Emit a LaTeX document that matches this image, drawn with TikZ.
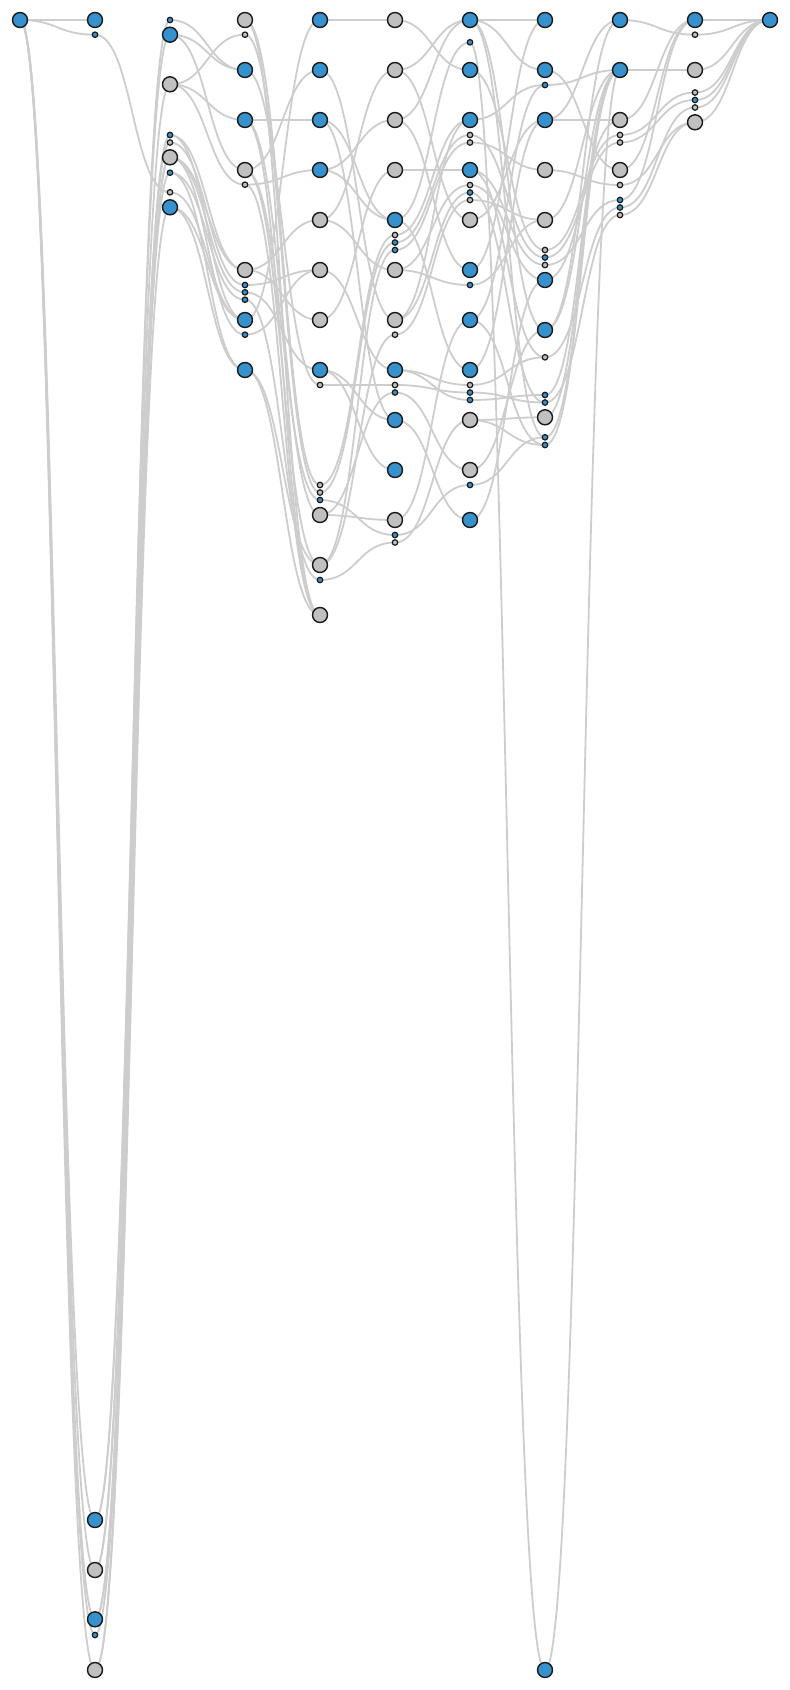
\documentclass[tikz,border=0pt]{standalone}
\usetikzlibrary{calc}
\definecolor{nblue}{RGB}{55,145,205}
\definecolor{ngray}{RGB}{192,192,192}
\definecolor{nedge}{RGB}{205,205,205}
\definecolor{nline}{RGB}{25,25,25}
\pgfdeclarelayer{edges}
\pgfsetlayers{edges,main}
\tikzset{
  bigB/.style={circle, draw=nline, line width=1.4pt, minimum size=15pt, inner sep=0pt, fill=nblue},
  bigG/.style={circle, draw=nline, line width=1.4pt, minimum size=15pt, inner sep=0pt, fill=ngray},
  smB/.style={circle, draw=nline, line width=1.2pt, minimum size=5.5pt, inner sep=0pt, fill=nblue},
  smG/.style={circle, draw=nline, line width=1.2pt, minimum size=5.5pt, inner sep=0pt, fill=ngray},
  lnk/.style={draw=nedge, line width=1.8pt,
    to path={.. controls ([xshift=37.5pt]\tikztostart) and ([xshift=-37.5pt]\tikztotarget) .. (\tikztotarget)}}
}
\begin{document}
\begin{tikzpicture}[x=1pt,y=-1pt]
\useasboundingbox (0,0) rectangle (790,1690);
% column 0
\node[bigB] (c0y20) at (20,20) {};
% column 1
\node[bigB] (c1y20) at (95,20) {};
\node[smB] (c1y35) at (95,34.7) {};
\node[bigB] (c1y1520) at (95,1520) {};
\node[bigG] (c1y1570) at (95,1570) {};
\node[bigB] (c1y1619) at (95,1619.3) {};
\node[smB] (c1y1635) at (95,1635) {};
\node[bigG] (c1y1670) at (95,1670) {};
% column 2
\node[smB] (c2y20) at (170,20) {};
\node[bigB] (c2y35) at (170,34.7) {};
\node[bigG] (c2y84) at (170,84.3) {};
\node[smB] (c2y135) at (170,135) {};
\node[smG] (c2y143) at (170,142.5) {};
\node[bigG] (c2y157) at (170,157.3) {};
\node[smB] (c2y173) at (170,172.7) {};
\node[smG] (c2y192) at (170,192.3) {};
\node[bigB] (c2y207) at (170,207.3) {};
% column 3
\node[bigG] (c3y20) at (245,20) {};
\node[smG] (c3y35) at (245,34.7) {};
\node[bigB] (c3y70) at (245,70) {};
\node[bigB] (c3y120) at (245,120) {};
\node[bigG] (c3y170) at (245,170) {};
\node[smG] (c3y185) at (245,184.7) {};
\node[bigG] (c3y270) at (245,270) {};
\node[smB] (c3y285) at (245,285) {};
\node[smB] (c3y292) at (245,292.3) {};
\node[smB] (c3y300) at (245,299.7) {};
\node[bigB] (c3y320) at (245,320) {};
\node[smB] (c3y335) at (245,334.7) {};
\node[bigB] (c3y370) at (245,370) {};
% column 4
\node[bigB] (c4y20) at (320,20) {};
\node[bigB] (c4y70) at (320,70) {};
\node[bigB] (c4y120) at (320,120) {};
\node[bigB] (c4y170) at (320,170) {};
\node[bigG] (c4y220) at (320,220) {};
\node[bigG] (c4y270) at (320,270) {};
\node[bigG] (c4y320) at (320,320) {};
\node[bigB] (c4y370) at (320,370) {};
\node[smG] (c4y385) at (320,385) {};
\node[smG] (c4y485) at (320,485) {};
\node[smG] (c4y493) at (320,492.5) {};
\node[smB] (c4y500) at (320,500) {};
\node[bigG] (c4y515) at (320,515) {};
\node[bigG] (c4y565) at (320,565) {};
\node[smB] (c4y580) at (320,580) {};
\node[bigG] (c4y615) at (320,615) {};
% column 5
\node[bigG] (c5y20) at (395,20) {};
\node[bigG] (c5y70) at (395,70) {};
\node[bigG] (c5y120) at (395,120) {};
\node[bigG] (c5y170) at (395,170) {};
\node[bigB] (c5y220) at (395,220) {};
\node[smG] (c5y235) at (395,235) {};
\node[smB] (c5y242) at (395,242.5) {};
\node[smB] (c5y250) at (395,250) {};
\node[bigG] (c5y270) at (395,270) {};
\node[bigG] (c5y320) at (395,320) {};
\node[smG] (c5y335) at (395,334.7) {};
\node[bigB] (c5y370) at (395,370) {};
\node[smG] (c5y385) at (395,385) {};
\node[smB] (c5y392) at (395,392.5) {};
\node[bigB] (c5y420) at (395,420) {};
\node[bigB] (c5y470) at (395,470) {};
\node[bigG] (c5y520) at (395,520) {};
\node[smB] (c5y535) at (395,535) {};
\node[smG] (c5y542) at (395,542.5) {};
% column 6
\node[bigB] (c6y20) at (470,20) {};
\node[smB] (c6y42) at (470,42.3) {};
\node[bigB] (c6y70) at (470,70) {};
\node[bigB] (c6y120) at (470,120) {};
\node[smG] (c6y135) at (470,135) {};
\node[smG] (c6y142) at (470,142.5) {};
\node[bigB] (c6y170) at (470,170) {};
\node[smG] (c6y185) at (470,185) {};
\node[smB] (c6y192) at (470,192.5) {};
\node[smG] (c6y200) at (470,200) {};
\node[bigG] (c6y220) at (470,220) {};
\node[bigB] (c6y270) at (470,270) {};
\node[smB] (c6y285) at (470,285) {};
\node[bigB] (c6y320) at (470,320) {};
\node[bigB] (c6y370) at (470,370) {};
\node[smG] (c6y385) at (470,385) {};
\node[smB] (c6y392) at (470,392.5) {};
\node[smB] (c6y400) at (470,400) {};
\node[bigG] (c6y420) at (470,420) {};
\node[bigG] (c6y470) at (470,470) {};
\node[smB] (c6y485) at (470,485) {};
\node[bigB] (c6y520) at (470,520) {};
% column 7
\node[bigB] (c7y20) at (545,20) {};
\node[bigB] (c7y70) at (545,70) {};
\node[smB] (c7y85) at (545,85) {};
\node[bigB] (c7y120) at (545,120) {};
\node[bigG] (c7y170) at (545,170) {};
\node[bigG] (c7y220) at (545,220) {};
\node[smG] (c7y250) at (545,250) {};
\node[smB] (c7y257) at (545,257.5) {};
\node[smG] (c7y265) at (545,265) {};
\node[bigB] (c7y280) at (545,280) {};
\node[bigB] (c7y330) at (545,330) {};
\node[smG] (c7y357) at (545,357.3) {};
\node[smB] (c7y395) at (545,395) {};
\node[smB] (c7y402) at (545,402.5) {};
\node[bigG] (c7y417) at (545,417.3) {};
\node[smB] (c7y437) at (545,437.3) {};
\node[smB] (c7y445) at (545,445) {};
\node[bigB] (c7y1670) at (545,1670) {};
% column 8
\node[bigB] (c8y20) at (620,20) {};
\node[bigB] (c8y70) at (620,70) {};
\node[bigG] (c8y120) at (620,120) {};
\node[smG] (c8y135) at (620,135) {};
\node[smG] (c8y142) at (620,142.5) {};
\node[bigG] (c8y170) at (620,170) {};
\node[smG] (c8y185) at (620,185) {};
\node[smB] (c8y200) at (620,200) {};
\node[smB] (c8y207) at (620,207.5) {};
\node[smG] (c8y215) at (620,215) {};
% column 9
\node[bigB] (c9y20) at (695,20) {};
\node[smG] (c9y35) at (695,34.7) {};
\node[bigG] (c9y70) at (695,70) {};
\node[smG] (c9y92) at (695,92.5) {};
\node[smB] (c9y100) at (695,100) {};
\node[smG] (c9y107) at (695,107.5) {};
\node[bigG] (c9y122) at (695,122.3) {};
% column 10
\node[bigB] (c10y20) at (770,20) {};

\begin{pgfonlayer}{edges}
\foreach \a/\b in {
 c0y20/c1y20, c0y20/c1y35, c0y20/c1y1520, c0y20/c1y1570, c0y20/c1y1619, c0y20/c1y1635, c0y20/c1y1670,
 c1y35/c2y192, c1y1520/c2y20, c1y1520/c2y35, c1y1570/c2y84, c1y1570/c2y143, c1y1619/c2y157, c1y1619/c2y135,
 c1y1635/c2y173, c1y1670/c2y207, c1y1670/c2y157,
 c2y20/c3y70, c2y35/c3y70, c2y35/c3y170, c2y84/c3y35, c2y84/c3y120, c2y84/c3y185,
 c2y135/c3y270, c2y135/c3y320, c2y143/c3y285, c2y157/c3y270, c2y157/c3y292, c2y157/c3y335,
 c2y173/c3y300, c2y173/c3y370, c2y192/c3y320, c2y207/c3y370, c2y207/c3y320,
 c3y20/c4y485, c3y20/c4y615, c3y35/c4y493, c3y70/c4y385, c3y120/c4y120, c3y120/c4y515, c3y120/c4y615,
 c3y170/c4y70, c3y170/c4y565, c3y170/c4y500, c3y185/c4y170, c3y185/c4y615, c3y270/c4y220, c3y270/c4y320,
 c3y285/c4y270, c3y292/c4y370, c3y300/c4y580, c3y320/c4y20, c3y335/c4y270, c3y370/c4y615, c3y370/c4y565,
 c4y20/c5y20, c4y70/c5y320, c4y120/c5y220, c4y120/c5y420, c4y170/c5y120, c4y170/c5y220, c4y220/c5y270,
 c4y220/c5y70, c4y270/c5y370, c4y320/c5y170, c4y370/c5y420, c4y370/c5y470, c4y385/c5y385, c4y485/c5y235,
 c4y493/c5y242, c4y500/c5y535, c4y515/c5y520, c4y515/c5y392, c4y565/c5y250, c4y565/c5y335, c4y580/c5y542,
 c5y20/c6y70, c5y70/c6y20, c5y70/c6y220, c5y120/c6y20, c5y120/c6y270, c5y170/c6y170, c5y220/c6y370,
 c5y220/c6y42, c5y235/c6y120, c5y242/c6y135, c5y250/c6y142, c5y270/c6y185, c5y270/c6y285, c5y320/c6y192,
 c5y320/c6y120, c5y335/c6y200, c5y370/c6y385, c5y370/c6y400, c5y385/c6y392, c5y392/c6y470, c5y420/c6y520,
 c5y520/c6y320, c5y535/c6y485, c5y542/c6y420,
 c6y20/c7y20, c6y20/c7y70, c6y20/c7y330, c6y20/c7y437, c6y42/c7y1670, c6y70/c7y250, c6y120/c7y85,
 c6y135/c7y257, c6y142/c7y170, c6y170/c7y265, c6y170/c7y357, c6y185/c7y280, c6y192/c7y402, c6y200/c7y220,
 c6y220/c7y120, c6y270/c7y20, c6y285/c7y220, c6y320/c7y85, c6y320/c7y445, c6y370/c7y120, c6y385/c7y357,
 c6y392/c7y402, c6y400/c7y395, c6y420/c7y417, c6y420/c7y445, c6y470/c7y330, c6y485/c7y437, c6y520/c7y280,
 c7y70/c8y170, c7y85/c8y70, c7y120/c8y120, c7y120/c8y20, c7y170/c8y185, c7y220/c8y70, c7y250/c8y135,
 c7y257/c8y142, c7y265/c8y200, c7y280/c8y120, c7y330/c8y70, c7y330/c8y20, c7y357/c8y207, c7y395/c8y70,
 c7y402/c8y215, c7y417/c8y70, c7y437/c8y70, c7y445/c8y70, c7y1670/c8y70,
 c8y20/c9y35, c8y70/c9y70, c8y120/c9y20, c8y135/c9y92, c8y142/c9y100, c8y170/c9y20, c8y185/c9y122,
 c8y200/c9y20, c8y207/c9y107, c8y215/c9y122,
 c9y20/c10y20, c9y35/c10y20, c9y70/c10y20, c9y92/c10y20, c9y100/c10y20, c9y107/c10y20, c9y122/c10y20}
 \draw[lnk] (\a.center) to (\b.center);
\end{pgfonlayer}
\end{tikzpicture}
\end{document}
